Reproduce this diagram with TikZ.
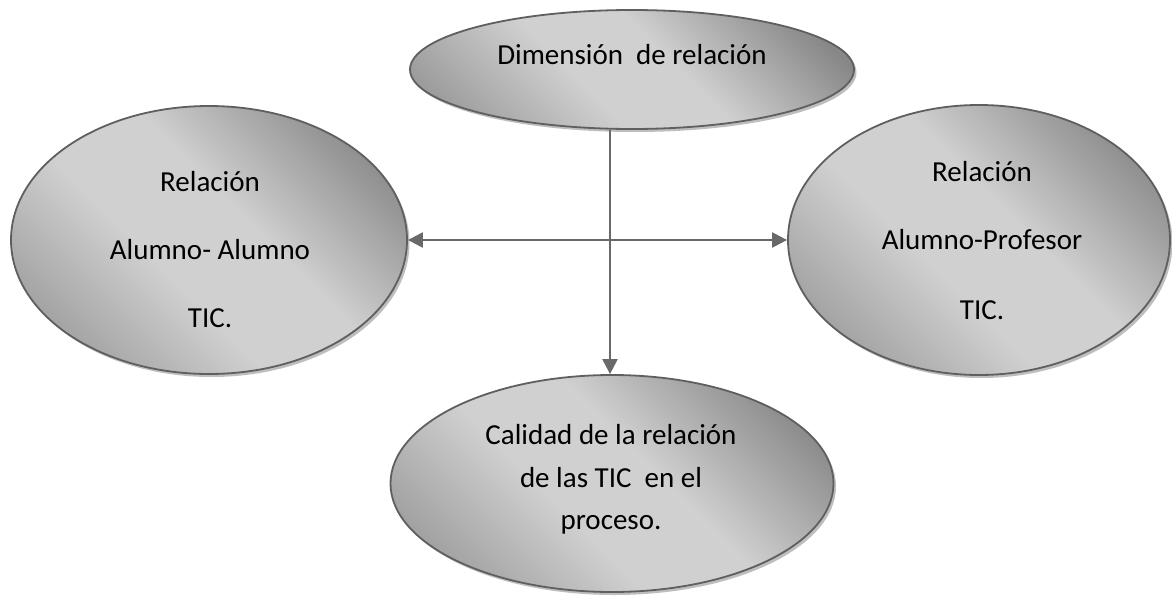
\documentclass[tikz,border=0pt]{standalone}
\usepackage{fontspec}
\setmainfont{Carlito}
\usetikzlibrary{shapes.geometric,arrows.meta,shadows}
\definecolor{gend}{RGB}{122,122,122}
\definecolor{gdark}{RGB}{135,135,135}
\definecolor{gdarkb}{RGB}{138,138,138}
\definecolor{gmid}{RGB}{152,152,152}
\definecolor{glight}{RGB}{208,208,208}
\definecolor{edgec}{RGB}{95,95,95}
\definecolor{arrc}{RGB}{105,105,105}
\definecolor{shadowc}{RGB}{190,190,190}
\pgfdeclareverticalshading{ovalshade}{100bp}{color(0bp)=(gdarkb); color(20bp)=(gmid); color(42bp)=(glight); color(56bp)=(glight); color(78bp)=(gdark); color(100bp)=(gend)}
\begin{document}
\begin{tikzpicture}[x=1pt,y=-1pt,
  oval/.style={ellipse, draw=edgec, line width=1.8pt, inner sep=0pt,
    shade, shading=ovalshade, shading angle=-45,
    drop shadow={shadow xshift=2.5pt, shadow yshift=-3pt, fill=shadowc, opacity=1}},
  txt/.style={font=\fontsize{29}{35}\selectfont, anchor=base, inner sep=0pt, text=black},
  conn/.style={draw=arrc, line width=2.2pt}]
\useasboundingbox[fill=white] (0,0) rectangle (1172,597);
% ellipses
\node[oval, minimum width=444pt, minimum height=119pt] (T) at (632,69.5) {};
\node[oval, minimum width=396pt, minimum height=268pt] (L) at (209,240) {};
\node[oval, minimum width=382pt, minimum height=270pt] (R) at (979,240) {};
\node[oval, minimum width=443pt, minimum height=217pt] (B) at (612,483.5) {};
% texts
\node[txt] (t1) at (632,64) {Dimensión\ \ de relación};
\node[txt] (l1) at (210,191) {Relación};
\node[txt] (l2) at (210,259) {Alumno- Alumno};
\node[txt] (l3) at (210,327) {TIC.};
\node[txt] (r1) at (982,181) {Relación};
\node[txt] (r2) at (982,249) {Alumno-Profesor};
\node[txt] (r3) at (982,319) {TIC.};
\node[txt] (b1) at (611,444) {Calidad de la relación};
\node[txt] (b2) at (611,487) {de las TIC\ \ en el};
\node[txt] (b3) at (611,529) {proceso.};
% connectors
\coordinate (vx) at (610,0);
\draw[conn, {Triangle[length=15pt,width=15pt]}-{Triangle[length=15pt,width=15pt]}] (L.east) -- (R.west);
\draw[conn, -{Triangle[length=15pt,width=15pt]}] (T.south -| vx) -- (B.north -| vx);
\end{tikzpicture}
\end{document}
